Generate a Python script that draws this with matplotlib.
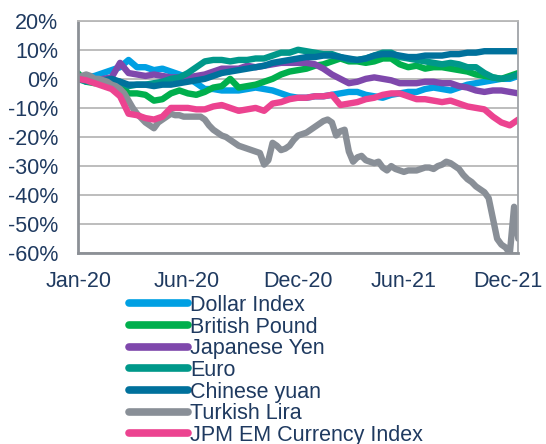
import numpy as np
import matplotlib
matplotlib.use("Agg")
import matplotlib.pyplot as plt
from matplotlib.ticker import FuncFormatter

# --- data (% change since Jan-20), bi-weekly points, lira weekly ---
dollar_index = [0, 0.5, 1, 2, 3, 4, 6.5, 4, 4, 3, 3.5, 2.5, 1.5, 0.5, -1.5, -3.5, -3.5, -4,
                -4, -4, -3.5, -3, -3.5, -4, -5, -6, -6.5, -6.5, -6, -6, -5.5, -5, -4.5,
                -4.5, -5.5, -6, -6.5, -5.5, -5, -4.5, -4.5, -3.5, -3, -3.5, -4, -3, -2,
                -1.5, -1, -0.5, 0, 0, 1]
british_pound = [2, -1, -1.5, -1, -0.5, -2, -5, -5, -5.5, -7.5, -7, -5, -4, -5, -5.5, -4.5,
                 -3, -2.5, 0, -3, -2.5, -2, -1, 0, 1.5, 2.5, 3, 3.5, 4.5, 5, 6, 7, 6, 6,
                 5.5, 6, 7, 7, 5, 4, 4.5, 3.5, 4, 4, 3.5, 3, 2.5, 1.5, 1, 0.5, 0, 1, 2]
japanese_yen = [0, 0, -0.5, 0, 0.5, 5.5, 2, 1.5, 1, 1.5, 1, 0.5, 0.5, 0.5, 1, 1.5, 2.5,
                3.5, 3.5, 3.5, 4.5, 4, 4.5, 5, 5.5, 5.5, 5.5, 5.5, 5, 3.5, 1.5, 0, -1.5,
                -1, 0, 0.5, 0, -0.5, -1.5, -1.5, -1.5, -1, -1, -1.5, -1.5, -2.5, -3, -4,
                -4.5, -4, -4, -4.5, -5]
euro = [0, -1, -1, -1, -0.5, -1, -2.5, -2, -2, -1.5, -1, 0, 0.5, 2, 4, 6, 6.5, 6.5, 6,
        6.5, 6.5, 7, 7, 8, 9, 9, 10, 9.5, 9, 8.5, 8.5, 7.5, 6.5, 6.5, 7, 8, 9, 9, 7.5,
        7, 6.5, 6, 5.5, 5, 5.5, 5, 4, 4, 2, 0.5, 0, 0.5, 1.5]
chinese_yuan = [0, -0.5, -0.5, -0.5, 0, -1, -2, -2, -2, -2.5, -2, -2, -1.5, -1, -0.5, 0,
                1, 2, 2.5, 3, 3.5, 4, 4.5, 5.5, 6, 6.5, 7, 7.5, 7.5, 8, 8, 7.5, 7, 6.5, 7,
                8, 8.5, 8.5, 8, 7.5, 7.5, 8, 8, 8, 8.5, 8.5, 9, 9, 9.5, 9.5, 9.5, 9.5, 9.5]
jpm_em = [0, -0.5, -1.5, -2.5, -3.5, -6, -12, -12.5, -13.5, -14, -13, -10, -10, -10,
          -10.5, -10.5, -9.5, -9, -10, -11, -10.5, -10, -11, -8.5, -8, -7, -6.5, -6.5,
          -6, -6, -5.5, -9, -8.5, -8, -7, -6.5, -5.5, -5, -5, -6, -7, -7, -7.5, -8,
          -7.5, -8.5, -9.5, -10, -10.5, -13, -15, -16, -14]
turkish_lira = [0, 1, 1.5, 1, 0, 0, -0.5, -1, -2, -2.5, -3.5, -5, -7.5, -10, -12, -13.5,
                -15, -16, -17, -15, -14, -13, -12, -12.5, -12.5, -13, -13, -13, -13, -13,
                -14, -16, -17.5, -18.5, -19.5, -20, -21, -22, -23, -23.5, -24, -24.5, -25,
                -25.5, -29.5, -28, -22, -23, -24.5, -24, -23, -21, -19.5, -19, -18.5,
                -17.5, -16.5, -15.5, -14.5, -14, -15, -19.5, -18, -17.5, -25, -28.5, -27,
                -26.5, -28, -28.5, -29, -28.5, -30.5, -31.5, -30, -31, -31.5, -32, -31.5,
                -31.5, -31.5, -31, -30.5, -30.5, -31, -30, -29.5, -28.5, -29, -30, -31,
                -33, -34.5, -35.5, -37, -38, -39, -41, -48, -55, -57, -58, -60, -44, -55]

tick_labels = ["Jan-20", "Jun-20", "Dec-20", "Jun-21", "Dec-21"]

series = [
    ("Dollar Index", dollar_index, "#00A0E3", 2),
    ("British Pound", british_pound, "#00AF4D", 2),
    ("Japanese Yen", japanese_yen, "#7F48AC", 2),
    ("Euro", euro, "#00988A", 2),
    ("Chinese yuan", chinese_yuan, "#00719C", 2),
    ("Turkish Lira", turkish_lira, "#898F97", 1),
    ("JPM EM Currency Index", jpm_em, "#EC4390", 2),
]

text_color = "#1F3A60"
plt.rcParams["font.family"] = ["Liberation Sans", "DejaVu Sans"]

fig = plt.figure(figsize=(5.46, 4.44), dpi=100)
ax = fig.add_axes([0.1423, 0.4295, 0.807, 0.5239])

for name, vals, col, step in series:
    x = np.arange(len(vals)) * step
    ax.plot(x, vals, color=col, lw=4.6, label=name, solid_capstyle="round",
            solid_joinstyle="round")

ax.set_xlim(0, 104)
ax.set_ylim(-60, 20)
ax.set_yticks(np.arange(-60, 21, 10))
ax.yaxis.set_major_formatter(FuncFormatter(lambda v, p: f"{int(v)}%"))
ax.set_xticks([0.2, 25.8, 52, 76.8, 101.5])
ax.set_xticklabels(tick_labels)
ax.tick_params(axis="both", length=0, labelsize=15.5, colors=text_color)
ax.tick_params(axis="y", pad=14)
ax.tick_params(axis="x", pad=13)

ax.grid(True, axis="y", color="#B8B8B8", lw=1.3)
ax.set_axisbelow(True)
for s in ax.spines.values():
    s.set_color("#B8B8B8")
    s.set_linewidth(1.3)
for side in ("left", "bottom"):
    ax.spines[side].set_color("#8C9096")
    ax.spines[side].set_linewidth(2)
ax.spines["right"].set_color("#A0A4A8")

leg = fig.legend(loc="upper left", bbox_to_anchor=(129 / 546, 1 - 295 / 444),
                 frameon=False, fontsize=15.5, handlelength=2.75,
                 handletextpad=0.08, labelspacing=0.03, borderaxespad=0,
                 borderpad=0)
for t in leg.get_texts():
    t.set_color(text_color)
for h in leg.get_lines():
    h.set_linewidth(5.5)

fig.savefig("out.png", dpi=100)
